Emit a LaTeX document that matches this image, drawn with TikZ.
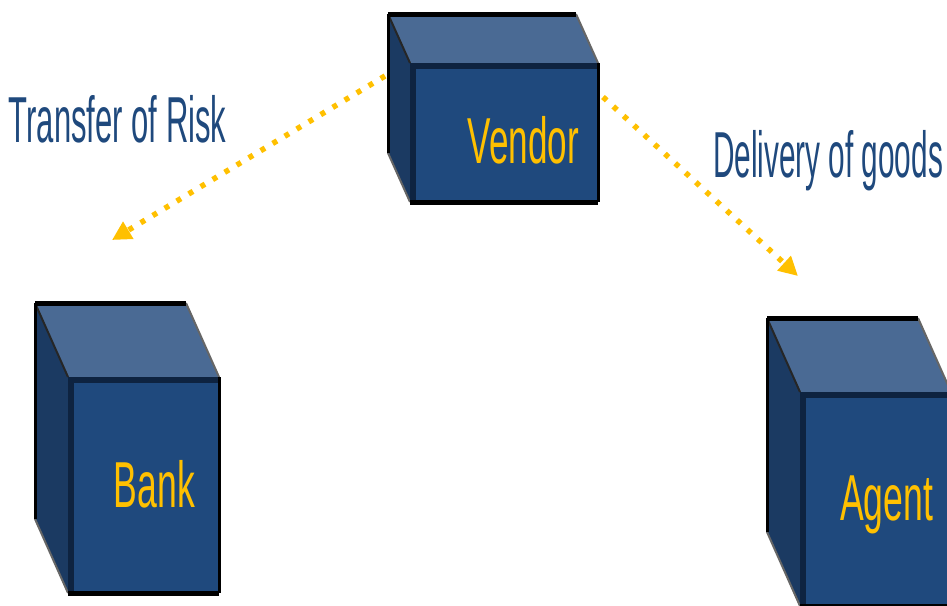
\documentclass[tikz,border=0pt]{standalone}
\usepackage{fontspec}
\setmainfont{Liberation Sans}
\usetikzlibrary{arrows.meta}
\definecolor{topc}{HTML}{4A6A94}
\definecolor{frontc}{HTML}{1F497D}
\definecolor{sidec}{HTML}{1B3A62}
\definecolor{bandc}{HTML}{0E2340}
\definecolor{arrowc}{HTML}{FFC000}
\definecolor{lblc}{HTML}{1F497D}
\tikzset{
  face/.style={fill=frontc, inner sep=0pt, outer sep=0pt, anchor=north west},
  boxtxt/.style={text=arrowc, inner sep=0pt, anchor=base, font=\fontsize{65}{65}\selectfont},
  lbl/.style={text=lblc, inner sep=0pt, anchor=base, font=\fontsize{65}{65}\selectfont},
  dotarrow/.style={draw=arrowc, line width=5.5pt, dash pattern=on 5pt off 9pt,
    -{Triangle[length=19pt,width=19pt]}},
}
\newcommand\mycuboid[3]{%
  \fill[sidec] (#1.north west) -- ([xshift=-#2pt,yshift=#3pt]#1.north west)
     -- ([xshift=-#2pt,yshift=#3pt]#1.south west) -- (#1.south west) -- cycle;
  \fill[topc] (#1.north west) -- ([xshift=-#2pt,yshift=#3pt]#1.north west)
     -- ([xshift=-#2pt,yshift=#3pt]#1.north east) -- (#1.north east) -- cycle;
  \draw[line width=2pt, draw=black!60] ([xshift=-#2pt,yshift=#3pt]#1.north east) -- (#1.north east);
  \draw[line width=2pt, draw=black!60] ([xshift=-#2pt,yshift=#3pt]#1.south west) -- (#1.south west);
  \draw[line width=2pt, draw=black!85] ([xshift=-#2pt,yshift=#3pt]#1.north west) -- (#1.north west);
  \draw[line width=5pt, line cap=square] ([xshift=-#2pt,yshift=#3pt]#1.north west) -- ([xshift=-#2pt,yshift=#3pt]#1.north east);
  \draw[line width=3pt] ([xshift=-#2pt,yshift=#3pt]#1.north west) -- ([xshift=-#2pt,yshift=#3pt]#1.south west);
  \draw[line width=6pt, draw=bandc] ([yshift=-3pt]#1.north west) -- ([yshift=-3pt]#1.north east);
  \draw[line width=6pt, draw=bandc] ([xshift=3pt]#1.north west) -- ([xshift=3pt]#1.south west);
  \draw[line width=3pt] (#1.north east) -- (#1.south east);
  \draw[line width=5pt, line cap=square] (#1.south west) -- (#1.south east);
}
\begin{document}
\begin{tikzpicture}[x=1pt, y=-1pt]
\useasboundingbox (0,0) rectangle (947,605);
\clip (0,0) rectangle (947,605);

% front faces
\node[face, minimum width=188pt, minimum height=139pt] (vendor) at (410,63) {};
\node[face, minimum width=151pt, minimum height=216pt] (bank) at (68,377) {};
\node[face, minimum width=151pt, minimum height=214pt] (agent) at (800,392) {};

\mycuboid{vendor}{22}{49}
\mycuboid{bank}{33}{74}
\mycuboid{agent}{33}{74}

% box texts
\node[boxtxt] (vendortxt) at (523.5,163) {\scalebox{0.54}[1]{Vendor}};
\node[boxtxt] (banktxt) at (154.5,507) {\scalebox{0.547}[1]{Bank}};
\node[boxtxt] (agenttxt) at (886.5,520) {\scalebox{0.547}[1]{Agent}};

% arrows
\coordinate (vl) at ([xshift=-25pt,yshift=-13pt]vendor.north west);
\coordinate (vr) at ([xshift=5pt,yshift=-34pt]vendor.north east);
\coordinate (riskend) at (112,240);
\coordinate (goodsend) at (798,276);
\draw[dotarrow] (vl) -- (riskend);
\draw[dotarrow] (vr) -- (goodsend);

% labels
\node[lbl] (risk) at (117.5,142) {\scalebox{0.477}[1]{Transfer of Risk}};
\node[lbl] (goods) at (828,177) {\scalebox{0.458}[1]{Delivery of goods}};
\end{tikzpicture}
\end{document}
